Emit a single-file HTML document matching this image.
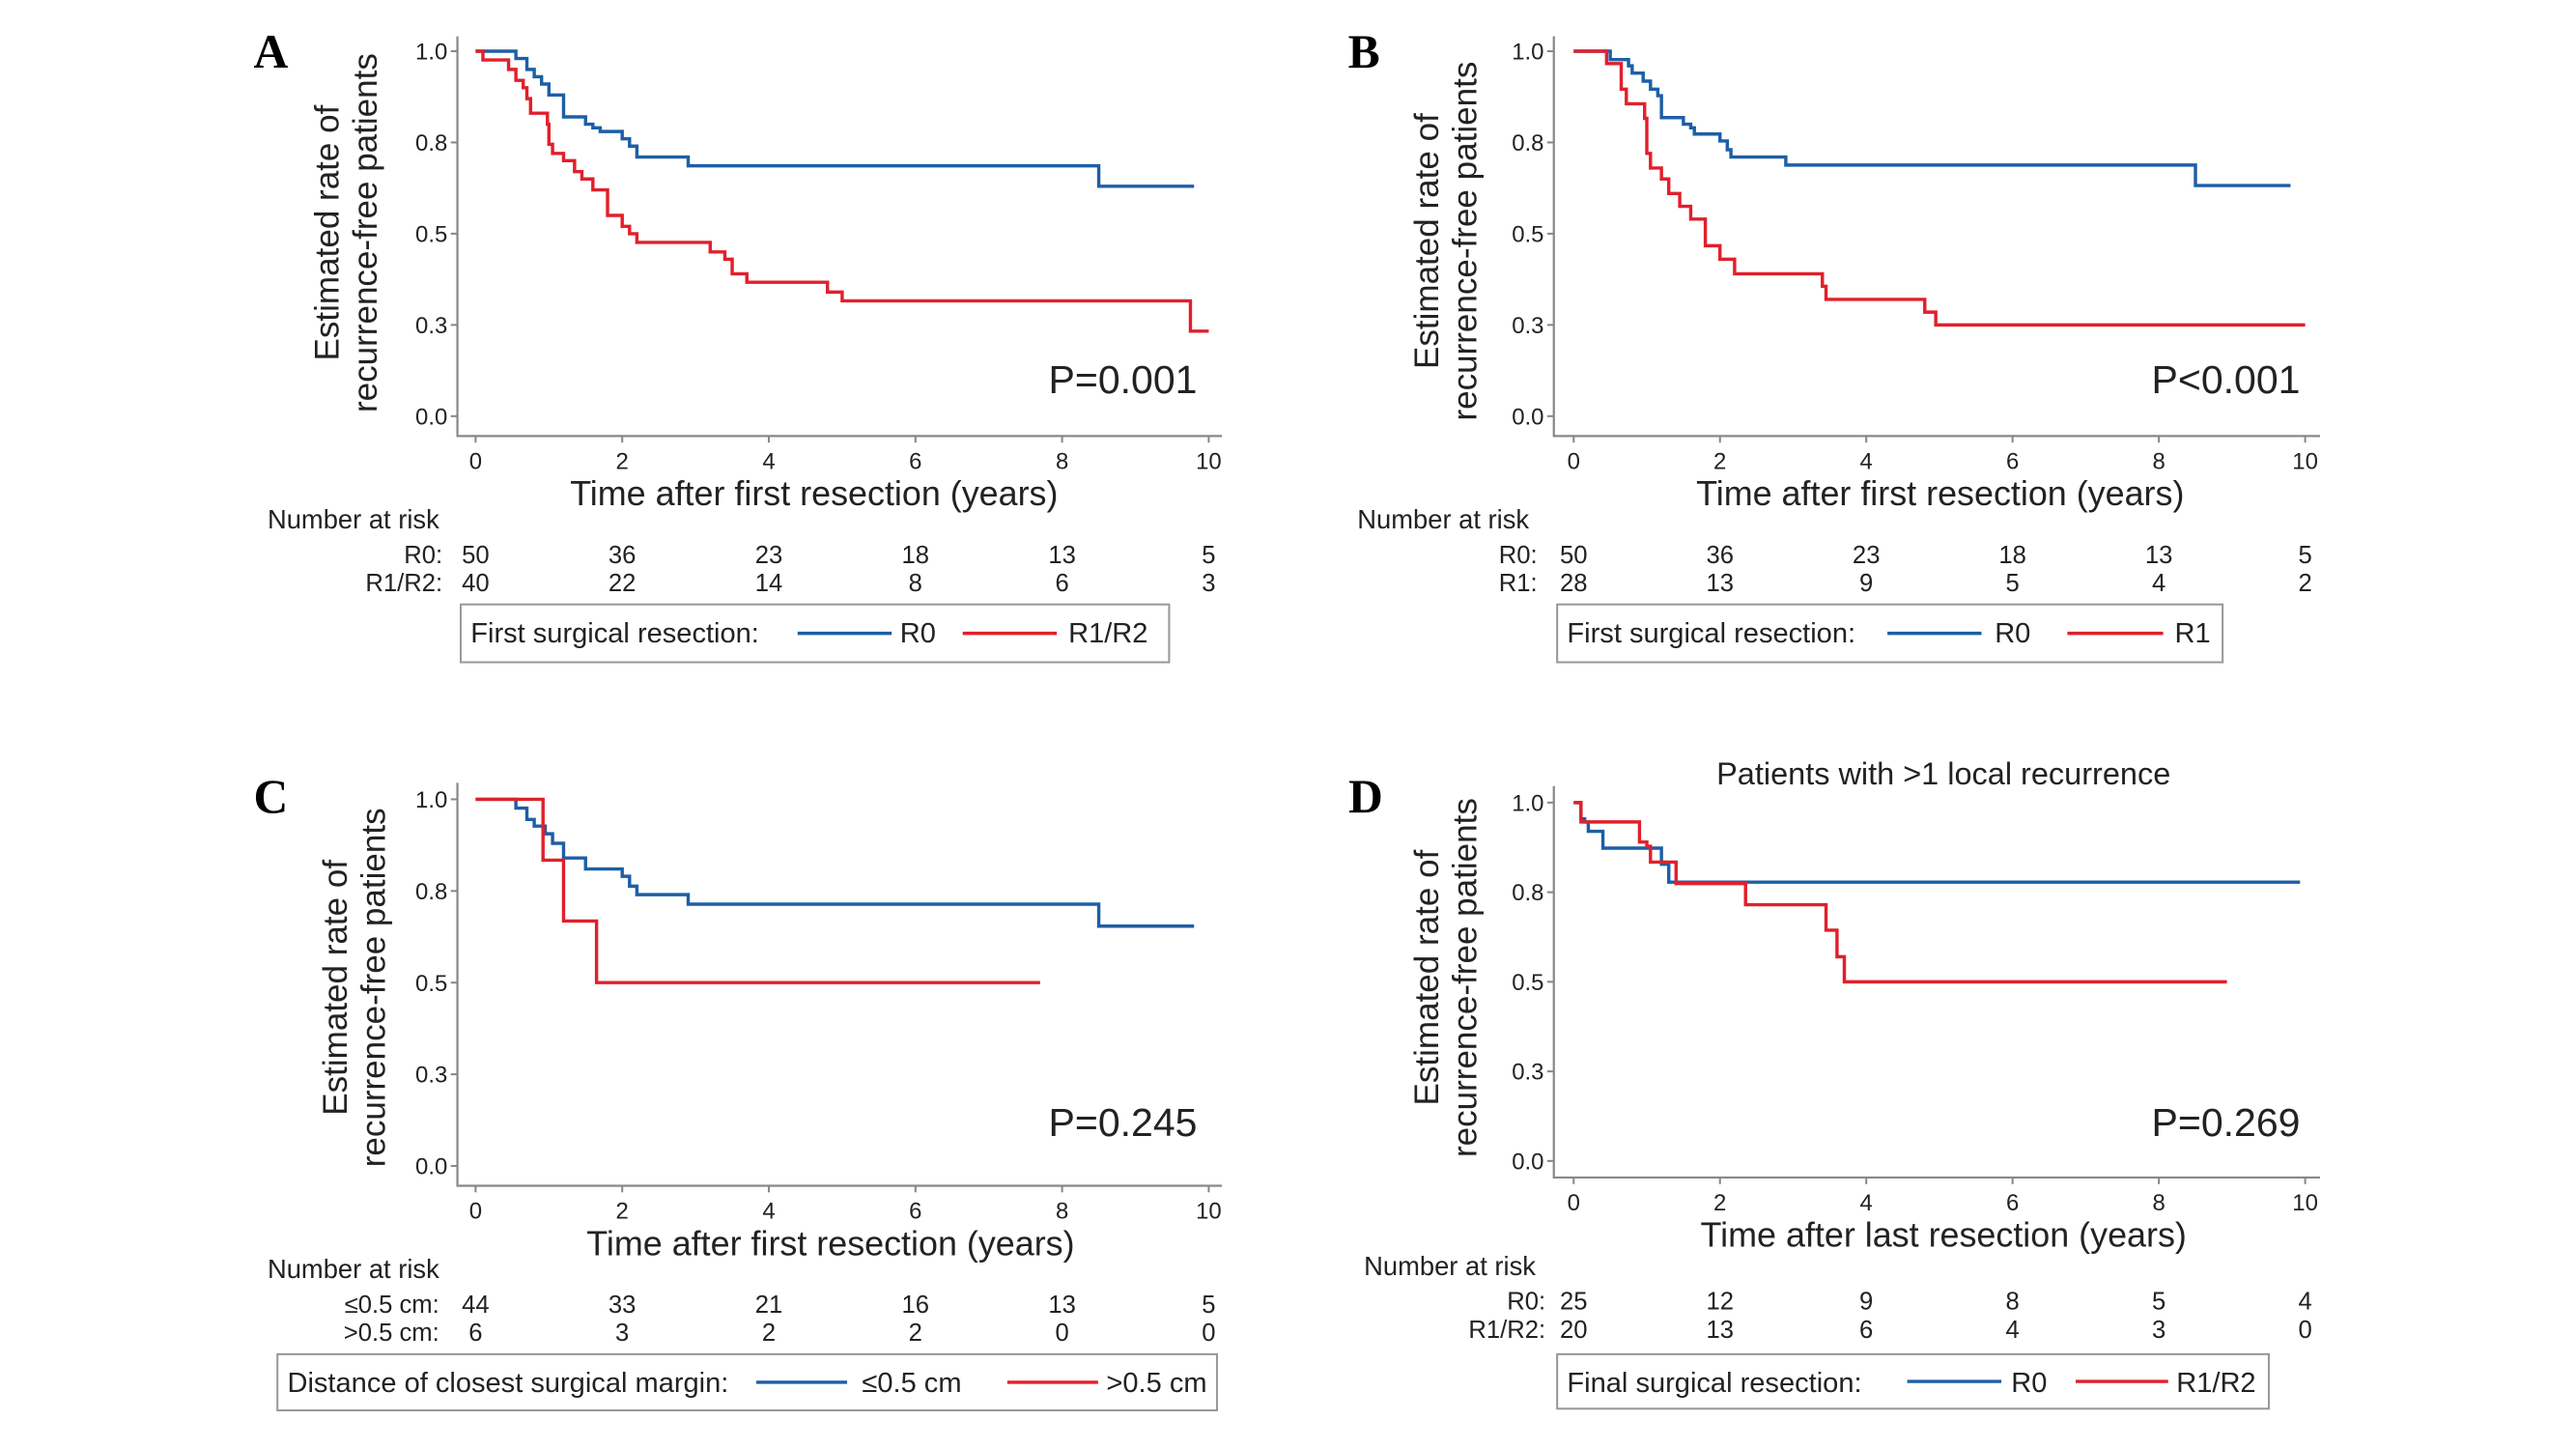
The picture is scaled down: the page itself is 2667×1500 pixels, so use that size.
<!DOCTYPE html>
<html><head><meta charset="utf-8">
<style>
html,body{margin:0;padding:0;background:#fff;}
svg{display:block;}
text{font-family:"Liberation Sans Narrow","Liberation Sans",sans-serif;fill:#222;}
.big{font-family:"Liberation Sans",sans-serif;}
.letter{font-family:"Liberation Serif",serif;font-weight:bold;fill:#000;}
</style></head>
<body>
<svg id="fig" width="2667" height="1500" viewBox="0 0 1560 877.4" xmlns="http://www.w3.org/2000/svg"></svg>
<script>
// ---- data ----
const xTickLabels=["0","2","4","6","8","10"];
const xTickValues=[0,2,4,6,8,10];
const yTickValues=[0,0.25,0.5,0.75,1];
const yTickLabels=["0.0","0.3","0.5","0.8","1.0"];

const aR0Times=[0,0.55,0.7,0.8,0.9,1.0,1.2,1.5,1.6,1.7,2.0,2.1,2.2,2.9,8.5,9.8];
const aR0Surv=[1,0.98,0.95,0.93,0.91,0.88,0.82,0.80,0.79,0.78,0.76,0.74,0.71,0.686,0.63,0.63];
const aR1Times=[0,0.1,0.45,0.55,0.65,0.7,0.75,0.98,1.0,1.05,1.2,1.35,1.45,1.6,1.8,2.0,2.1,2.2,3.2,3.4,3.5,3.7,4.8,5.0,9.75,10];
const aR1Surv=[1,0.976,0.95,0.92,0.9,0.87,0.83,0.8,0.745,0.72,0.7,0.67,0.65,0.62,0.55,0.52,0.5,0.476,0.45,0.43,0.39,0.367,0.34,0.316,0.233,0.233];

const bR0Times=[0,0.5,0.75,0.8,0.95,1.05,1.15,1.2,1.5,1.6,1.65,2.0,2.1,2.15,2.9,8.5,9.8];
const bR0Surv=[1,0.977,0.96,0.94,0.918,0.896,0.878,0.818,0.8,0.79,0.773,0.754,0.73,0.71,0.688,0.632,0.632];
const bR1Times=[0,0.45,0.65,0.72,0.97,1.0,1.05,1.2,1.3,1.45,1.6,1.8,2.0,2.2,3.4,3.45,4.8,4.95,10];
const bR1Surv=[1,0.966,0.896,0.856,0.816,0.72,0.68,0.65,0.61,0.575,0.54,0.467,0.43,0.39,0.356,0.32,0.285,0.25,0.25];

const cLowTimes=[0,0.55,0.7,0.8,0.95,1.05,1.2,1.5,2.0,2.1,2.2,2.9,8.5,9.8];
const cLowSurv=[1,0.976,0.945,0.927,0.906,0.88,0.84,0.81,0.79,0.763,0.74,0.714,0.654,0.654];
const cHighTimes=[0,0.92,1.2,1.65,7.7];
const cHighSurv=[1,0.834,0.668,0.5,0.5];

const dR0Times=[0,0.1,0.15,0.2,0.4,1.2,1.3,9.93];
const dR0Surv=[1,0.955,0.946,0.92,0.873,0.828,0.778,0.778];
const dR1Times=[0,0.1,0.9,1.0,1.05,1.4,2.35,3.45,3.6,3.7,8.93];
const dR1Surv=[1,0.946,0.89,0.878,0.834,0.774,0.715,0.644,0.57,0.5,0.5];

const aRiskR0=[50,36,23,18,13,5];
const aRiskR1=[40,22,14,8,6,3];
const bRiskR0=[50,36,23,18,13,5];
const bRiskR1=[28,13,9,5,4,2];
const cRiskLow=[44,33,21,16,13,5];
const cRiskHigh=[6,3,2,2,0,0];
const dRiskR0=[25,12,9,8,5,4];
const dRiskR1=[20,13,6,4,3,0];

const BLUE="#1d5fa6", RED="#e0202c";
const svg=document.getElementById('fig');
const NS="http://www.w3.org/2000/svg";
function mk(tag,attrs,parent){const e=document.createElementNS(NS,tag);for(const k in attrs)e.setAttribute(k,attrs[k]);(parent||svg).appendChild(e);return e;}
function txt(s,x,y,size,anchor,parent,cls){const t=mk('text',{x:x,y:y,'font-size':size,'text-anchor':anchor||'start'},parent);if(cls)t.setAttribute('class',cls);t.textContent=s;return t;}

function panel(p){
  const g=mk('g',{});
  
  
  const sx=t=>p.x0+(p.x10-p.x0)*t/10;
  const sy=v=>p.y0+(p.y1-p.y0)*v;
  const ax=mk('path',{d:`M${p.axL},${p.axT}V${p.axB}H${p.axR}`,stroke:'#888',fill:'none','stroke-width':1.3},g);
  
  
  yTickValues.forEach((v,i)=>{
    mk('line',{x1:p.axL-4,x2:p.axL,y1:sy(v),y2:sy(v),stroke:'#888','stroke-width':1.2},g);
    const t=txt(yTickLabels[i],p.axL-6,sy(v)+5,14,'end',g);
    
    
  });
  xTickValues.forEach((v,i)=>{
    mk('line',{x1:sx(v),x2:sx(v),y1:p.axB,y2:p.axB+4,stroke:'#888','stroke-width':1.2},g);
    const t=txt(xTickLabels[i],sx(v),p.axB+20,14,'middle',g);
    
    
  });
  const yt=mk('text',{transform:`translate(${p.ytx},${p.yty}) rotate(-90)`,'font-size':20.5,'text-anchor':'middle',class:'big'},g);
  
  
  const ts1=mk('tspan',{x:0,y:0},yt);ts1.textContent='Estimated rate of';
  const ts2=mk('tspan',{x:0,y:23},yt);ts2.textContent='recurrence-free patients';
  const xt=txt(p.xtitle,p.xtX,p.axB+42,21,'middle',g,'big');
  
  
  const L=txt(p.id,p.letX,p.letY,29,'middle',g,'letter');
  
  
  if(p.title){const tt=txt(p.title,p.xtX,p.titleY,19,'middle',g,'big');
    
    }
  p.series.forEach(s=>{
    let d=`M${sx(s.t[0])},${sy(s.s[0])}`;
    for(let i=1;i<s.t.length;i++){d+=`H${sx(s.t[i])}V${sy(s.s[i])}`;}
    const c=mk('path',{d:d,stroke:s.color,fill:'none','stroke-width':2},g);
    
    
  });
  const pv=txt(p.pval,p.pX,p.pY,24,'end',g,'big');
  
  
  const nr=txt('Number at risk',p.nrX,p.nrY,16,'start',g);
  
  
  p.risk.forEach((r,ri)=>{
    const y=p.nrY+21+ri*17;
    const lab=txt(r.label,p.rlabR,y,15,'end',g);
    
    
    r.vals.forEach((v,i)=>{
      const n=txt(String(v),sx(xTickValues[i]),y,15,'middle',g);
      
      
    });
  });
  const lg=mk('g',{},g);
  
  
  const lb=p.leg;
  mk('rect',{x:lb.x,y:lb.y,width:lb.w,height:lb.h,fill:'#fff',stroke:'#999','stroke-width':1.2},lg);
  txt(lb.title,lb.x+6,lb.y+23,17,'start',lg);
  lb.items.forEach(it=>{
    const e=mk('g',{},lg);
    
    
    mk('line',{x1:it.l1,x2:it.l2,y1:lb.y+lb.h/2,y2:lb.y+lb.h/2,stroke:it.color,'stroke-width':2},e);
    txt(it.label,it.tx,lb.y+23,17,'start',e);
  });
}

panel({id:'A',x0:288,x10:732,y1:31,y0:252,axL:277,axT:22,axB:264,axR:740,ytx:205,yty:141,xtX:493,
  xtitle:'Time after first resection (years)',letX:164,letY:41,pval:'P=0.001',pX:725,pY:238,
  nrX:162,nrY:320,rlabR:268,
  series:[{key:'r0',t:aR0Times,s:aR0Surv,color:BLUE},{key:'r1r2',t:aR1Times,s:aR1Surv,color:RED}],
  risk:[{label:'R0:',vals:aRiskR0},{label:'R1/R2:',vals:aRiskR1}],
  leg:{x:279,y:366,w:429,h:35,title:'First surgical resection:',items:[
    {l1:483,l2:540,tx:545,label:'R0',color:BLUE},{l1:583,l2:640,tx:647,label:'R1/R2',color:RED}]}});

panel({id:'B',x0:953,x10:1396,y1:31,y0:252,axL:941,axT:22,axB:264,axR:1405,ytx:871,yty:146,xtX:1175,
  xtitle:'Time after first resection (years)',letX:826,letY:41,pval:'P<0.001',pX:1393,pY:238,
  nrX:822,nrY:320,rlabR:931,
  series:[{key:'r0',t:bR0Times,s:bR0Surv,color:BLUE},{key:'r1',t:bR1Times,s:bR1Surv,color:RED}],
  risk:[{label:'R0:',vals:bRiskR0},{label:'R1:',vals:bRiskR1}],
  leg:{x:943,y:366,w:403,h:35,title:'First surgical resection:',items:[
    {l1:1143,l2:1200,tx:1208,label:'R0',color:BLUE},{l1:1252,l2:1310,tx:1317,label:'R1',color:RED}]}});

panel({id:'C',x0:288,x10:732,y1:484,y0:706,axL:277,axT:474,axB:718,axR:740,ytx:210,yty:598,xtX:503,
  xtitle:'Time after first resection (years)',letX:164,letY:492,pval:'P=0.245',pX:725,pY:688,
  nrX:162,nrY:774,rlabR:266,
  series:[{key:'le05',t:cLowTimes,s:cLowSurv,color:BLUE},{key:'gt05',t:cHighTimes,s:cHighSurv,color:RED}],
  risk:[{label:'≤0.5 cm:',vals:cRiskLow},{label:'>0.5 cm:',vals:cRiskHigh}],
  leg:{x:168,y:820,w:569,h:34,title:'Distance of closest surgical margin:',items:[
    {l1:458,l2:513,tx:522,label:'≤0.5 cm',color:BLUE},{l1:610,l2:665,tx:670,label:'>0.5 cm',color:RED}]}});

panel({id:'D',x0:953,x10:1396,y1:486,y0:703,axL:941,axT:476,axB:713,axR:1405,ytx:871,yty:592,xtX:1177,
  xtitle:'Time after last resection (years)',letX:827,letY:492,pval:'P=0.269',pX:1393,pY:688,
  nrX:826,nrY:772,rlabR:936,title:'Patients with >1 local recurrence',titleY:475,
  series:[{key:'r0',t:dR0Times,s:dR0Surv,color:BLUE},{key:'r1r2',t:dR1Times,s:dR1Surv,color:RED}],
  risk:[{label:'R0:',vals:dRiskR0},{label:'R1/R2:',vals:dRiskR1}],
  leg:{x:943,y:820,w:431,h:33,title:'Final surgical resection:',items:[
    {l1:1155,l2:1212,tx:1218,label:'R0',color:BLUE},{l1:1257,l2:1313,tx:1318,label:'R1/R2',color:RED}]}});
</script>
</body></html>
